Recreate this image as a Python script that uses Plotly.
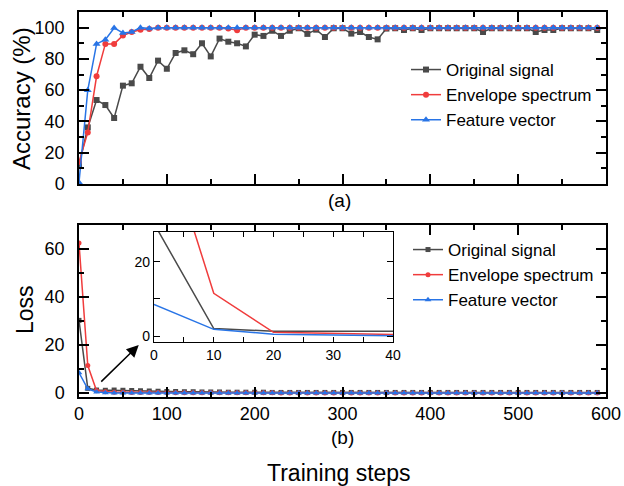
import plotly.graph_objects as go

# Training steps shared by all curves
steps = list(range(0, 600, 10))

# Accuracy (%) per training step
acc_original = [12, 36.2, 53.7, 50.5, 42.2, 62.9, 64.4, 75, 67.8, 78.9,
                73.7, 83.8, 85.5, 83, 90, 81.6, 93, 91, 90, 88,
                95.5, 94.7, 98, 94.7, 98, 99.6, 96, 98.7, 94, 99.6,
                99.6, 96.2, 97.2, 94, 92.5, 99.4, 99.6, 98.5, 99.6, 98.5,
                99.6, 99.6, 99.6, 99.6, 99.6, 99.6, 97.2, 99.6, 99.6, 99.6,
                99.6, 99.6, 97.2, 98.5, 98.5, 99.6, 99.6, 99.6, 99.6, 98.5]
acc_envelope = [14, 33, 68.9, 89.6, 89.6, 95, 97.2, 98.7, 99.2, 100,
                100, 100, 100, 100, 100, 100, 100, 99.5, 98.3, 100,
                100, 100, 100, 100, 100, 100, 100, 100, 100, 100,
                100, 100, 100, 100, 100, 100, 100, 100, 100, 100,
                100, 100, 100, 100, 100, 100, 100, 100, 100, 100,
                100, 100, 100, 100, 100, 100, 100, 100, 100, 100]
acc_feature = [1, 60, 89.6, 92.3, 99.8, 96.6, 97.2, 100, 99.5, 100,
               100, 100, 100, 100, 100, 100, 100, 100, 100, 100,
               100, 100, 100, 100, 100, 100, 100, 100, 100, 100,
               100, 100, 100, 100, 100, 100, 100, 100, 100, 100,
               100, 100, 100, 100, 100, 100, 100, 100, 100, 100,
               100, 100, 100, 100, 100, 100, 100, 100, 100, 100]

# Loss per training step
loss_original = [30.3, 2.0, 1.3, 1.2, 1.3, 1.2, 1.1, 1.0, 0.9, 0.8,
                 0.7, 0.7, 0.6, 0.6, 0.5, 0.5, 0.5, 0.4, 0.4, 0.4,
                 0.4, 0.4, 0.3, 0.3, 0.3, 0.3, 0.3, 0.3, 0.3, 0.3,
                 0.3, 0.3, 0.3, 0.3, 0.3, 0.3, 0.3, 0.3, 0.3, 0.3,
                 0.3, 0.3, 0.3, 0.3, 0.3, 0.3, 0.3, 0.3, 0.3, 0.3,
                 0.3, 0.3, 0.3, 0.3, 0.3, 0.3, 0.3, 0.3, 0.3, 0.3]
loss_envelope = [62.5, 11.5, 1.0, 0.6, 0.4, 0.35, 0.3, 0.3, 0.25, 0.25,
                 0.2, 0.2, 0.2, 0.2, 0.2, 0.2, 0.15, 0.15, 0.15, 0.15,
                 0.15, 0.15, 0.15, 0.1, 0.1, 0.1, 0.1, 0.1, 0.1, 0.1,
                 0.1, 0.1, 0.1, 0.1, 0.1, 0.1, 0.1, 0.1, 0.1, 0.1,
                 0.1, 0.1, 0.1, 0.1, 0.1, 0.1, 0.1, 0.1, 0.1, 0.1,
                 0.1, 0.1, 0.1, 0.1, 0.1, 0.1, 0.1, 0.1, 0.1, 0.1]
loss_feature = [8.5, 1.8, 0.5, 0.2, 0.1, 0.1, 0.1, 0.1, 0.1, 0.1,
                0.1, 0.1, 0.1, 0.1, 0.1, 0.1, 0.1, 0.1, 0.1, 0.1,
                0.05, 0.05, 0.05, 0.05, 0.05, 0.05, 0.05, 0.05, 0.05, 0.05,
                0.05, 0.05, 0.05, 0.05, 0.05, 0.05, 0.05, 0.05, 0.05, 0.05,
                0.05, 0.05, 0.05, 0.05, 0.05, 0.05, 0.05, 0.05, 0.05, 0.05,
                0.05, 0.05, 0.05, 0.05, 0.05, 0.05, 0.05, 0.05, 0.05, 0.05]

# Zoomed view of the first 40 steps
inset_n = 5

names = ["Original signal", "Envelope spectrum", "Feature vector"]
colors = ["#4a4a4a", "#f03c3c", "#2874e6"]
symbols = ["square", "circle", "triangle-up"]
msizes = [6, 6, 7]

FONT = "Arial, Liberation Sans, sans-serif"

fig = go.Figure()

for name, vals, c, s, ms in zip(names, [acc_original, acc_envelope, acc_feature], colors, symbols, msizes):
    fig.add_trace(go.Scatter(x=steps, y=vals, name=name, mode="lines+markers",
                             line=dict(color=c, width=1.5),
                             marker=dict(symbol=s, size=ms, color=c),
                             xaxis="x", yaxis="y", legend="legend"))

for name, vals, c, s, ms in zip(names, [loss_original, loss_envelope, loss_feature], colors, symbols, msizes):
    fig.add_trace(go.Scatter(x=steps, y=vals, name=name, mode="lines+markers",
                             line=dict(color=c, width=1.5),
                             marker=dict(symbol=s, size=ms - 1, color=c),
                             xaxis="x2", yaxis="y2", legend="legend2"))

for name, vals, c in zip(names, [loss_original, loss_envelope, loss_feature], colors):
    fig.add_trace(go.Scatter(x=steps[:inset_n], y=vals[:inset_n], name=name, mode="lines",
                             line=dict(color=c, width=1.5), showlegend=False,
                             xaxis="x3", yaxis="y3"))

W, H = 624, 486


def px_x(p):
    return p / W


def px_y(p):
    return 1 - p / H


frame = dict(showline=True, linecolor="black", linewidth=1.5, mirror="allticks",
             ticks="inside", tickcolor="black", tickwidth=1.5, ticklen=10,
             showgrid=False, zeroline=False, automargin=False,
             tickfont=dict(family=FONT, size=18, color="black"))


def label(text, x, y, size, angle=0):
    return dict(text=text, x=px_x(x), y=px_y(y), xref="paper", yref="paper",
                xanchor="center", yanchor="middle", textangle=angle, showarrow=False,
                font=dict(family=FONT, size=size, color="black"))


fig.update_layout(
    width=W, height=H,
    margin=dict(l=0, r=0, t=0, b=0, autoexpand=False),
    paper_bgcolor="white", plot_bgcolor="white",
    font=dict(family=FONT, color="black"),
    xaxis=dict(frame, domain=[px_x(79), px_x(606)], range=[0, 600], dtick=100,
               showticklabels=False, anchor="y",
               minor=dict(ticks="inside", ticklen=5, tickwidth=1.5, tickcolor="black", dtick=50)),
    yaxis=dict(frame, domain=[px_y(184), px_y(12)], range=[0, 110], dtick=20, anchor="x",
               ticklabelstandoff=9,
               minor=dict(ticks="inside", ticklen=5, tickwidth=1.5, tickcolor="black", dtick=10)),
    xaxis2=dict(frame, domain=[px_x(79), px_x(606)], range=[0, 600], dtick=100, anchor="y2",
                minor=dict(ticks="inside", ticklen=5, tickwidth=1.5, tickcolor="black", dtick=50)),
    yaxis2=dict(frame, domain=[px_y(397), px_y(225)], range=[-1.6, 70], dtick=20, anchor="x2",
                ticklabelstandoff=9,
                minor=dict(ticks="inside", ticklen=5, tickwidth=1.5, tickcolor="black", dtick=10)),
    xaxis3=dict(frame, domain=[px_x(154), px_x(393)], range=[0, 40], anchor="y3",
                tickvals=[0, 5, 10, 15, 20, 25, 30, 35, 40],
                ticktext=["0", "", "10", "", "20", "", "30", "", "40"],
                ticklen=5, linewidth=1.2, tickwidth=1.2,
                tickfont=dict(family=FONT, size=14, color="black")),
    yaxis3=dict(frame, domain=[px_y(342), px_y(232)], range=[-1.6, 28], anchor="x3",
                tickvals=[0, 10, 20], ticktext=["0", "", "20"],
                ticklen=6, linewidth=1.2, tickwidth=1.2,
                tickfont=dict(family=FONT, size=14, color="black")),
    legend=dict(x=px_x(406), y=px_y(52), xanchor="left", yanchor="top",
                bgcolor="rgba(0,0,0,0)", font=dict(family=FONT, size=17, color="black"),
                tracegroupgap=0, itemwidth=30),
    legend2=dict(x=px_x(408), y=px_y(232), xanchor="left", yanchor="top",
                 bgcolor="rgba(0,0,0,0)", font=dict(family=FONT, size=17, color="black"),
                 tracegroupgap=0, itemwidth=30),
    annotations=[
        label("Accuracy (%)", 21, 99, 24, -90),
        label("Loss", 25, 310, 23, -90),
        label("(a)", 340, 200, 19),
        label("(b)", 342, 437, 19),
        label("Training steps", 339, 473, 23),
        dict(text="", x=68, y=20, xref="x2", yref="y2", ax=-39, ay=38,
             showarrow=True, arrowhead=2, arrowsize=1.6, arrowwidth=1.5, arrowcolor="black"),
    ],
)

fig.write_html("out.html")
